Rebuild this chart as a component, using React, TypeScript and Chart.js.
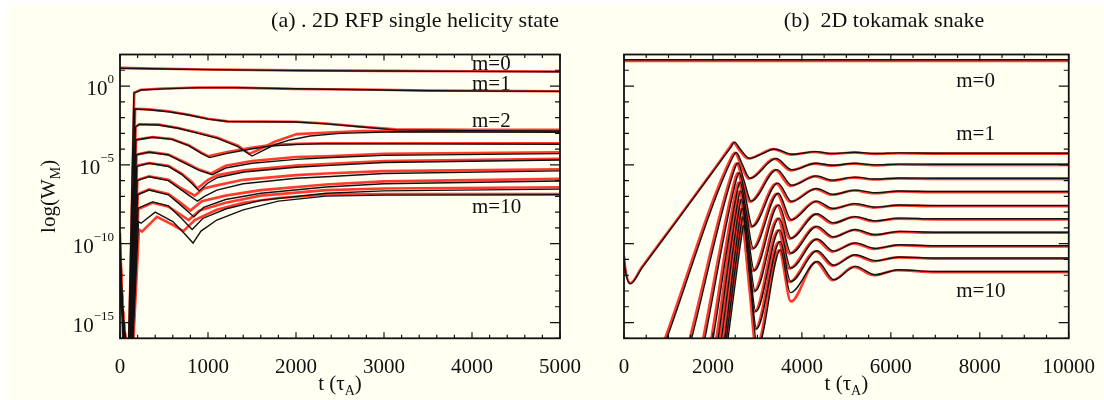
import React, { useEffect, useRef } from "react";
import { Chart, registerables } from "chart.js";

Chart.register(...registerables);

const FONT = '"Liberation Serif", "Times New Roman", Times, serif';
const BG = "#fffff2";
const INK = "#111111";
const RED = "#ff3b2e";

type Pt = [number, number]; // [time in tau_A, log10(W_M)]

// ---------------- Panel (a): 2D RFP single helicity state ----------------
const rfpTimeTicks = [0, 1000, 2000, 3000, 4000, 5000];
const logTicks = [0, -5, -10, -15];

const rfpM0Black: Pt[] = [[0, 1.13], [500, 1.08], [1000, 1.04], [2000, 0.98], [3000, 0.95], [4000, 0.93], [5000, 0.91]];
const rfpM0Red: Pt[] = [[0, 1.15], [500, 1.1], [1000, 1.05], [2000, 0.99], [3000, 0.96], [4000, 0.94], [5000, 0.92]];

const rfpM1Black: Pt[] = [[0, -9.6], [40, -17], [95, -17], [158, -0.45], [240, -0.25], [500, -0.18], [900, -0.1], [1300, -0.1], [2000, -0.17], [2750, -0.24], [3500, -0.3], [5000, -0.34]];
const rfpM1Red: Pt[] = [[0, -9.3], [40, -17], [100, -17], [162, -0.42], [240, -0.24], [500, -0.16], [900, -0.09], [1300, -0.1], [2000, -0.19], [2750, -0.22], [3500, -0.28], [5000, -0.33]];

const rfpM2Black: Pt[] = [[0, -10.2], [45, -17], [100, -17], [168, -1.46], [330, -1.5], [550, -1.63], [780, -1.84], [1000, -2.1], [1220, -2.25], [2000, -2.28], [2340, -2.4], [2750, -2.6], [3130, -2.78], [4000, -2.83], [5000, -2.85]];
const rfpM2Red: Pt[] = [[0, -9.9], [45, -17], [105, -17], [172, -1.44], [330, -1.48], [550, -1.6], [780, -1.82], [1000, -2.08], [1220, -2.24], [2000, -2.27], [2340, -2.38], [2750, -2.58], [3130, -2.75], [4000, -2.77], [5000, -2.78]];

const rfpM3Black: Pt[] = [[0, -10.6], [50, -17], [105, -17], [175, -2.6], [220, -2.43], [440, -2.47], [660, -2.68], [890, -3.0], [1110, -3.32], [1340, -3.84], [1500, -4.44], [1600, -4.16], [1750, -3.74], [1930, -3.42], [2160, -3.17], [2500, -3.0], [3130, -2.9], [5000, -2.93]];
const rfpM3Red: Pt[] = [[0, -10.3], [50, -17], [110, -17], [178, -2.58], [220, -2.42], [440, -2.45], [660, -2.66], [890, -2.97], [1110, -3.28], [1340, -3.78], [1470, -4.3], [1600, -3.98], [1750, -3.55], [2010, -3.05], [2750, -2.85], [5000, -2.88]];

const rfpM4Black: Pt[] = [[0, -11.0], [55, -17], [110, -17], [180, -3.42], [370, -3.25], [590, -3.38], [780, -3.78], [925, -4.27], [1020, -4.54], [1220, -4.27], [1490, -3.99], [1710, -3.8], [2010, -3.7], [2340, -3.65], [5000, -3.69]];
const rfpM4Red: Pt[] = [[0, -10.7], [55, -17], [115, -17], [183, -3.4], [370, -3.23], [590, -3.36], [780, -3.75], [925, -4.22], [1000, -4.45], [1220, -4.18], [1490, -3.92], [1710, -3.75], [2010, -3.67], [2340, -3.63], [5000, -3.63]];

const rfpM5Black: Pt[] = [[0, -11.4], [60, -17], [115, -17], [185, -4.37], [330, -4.2], [550, -4.37], [740, -4.9], [900, -5.35], [1050, -5.62], [1200, -5.2], [1500, -4.9], [2000, -4.65], [2340, -4.55], [3000, -4.4], [5000, -4.29]];
const rfpM5Red: Pt[] = [[0, -11.1], [60, -17], [120, -17], [188, -4.35], [330, -4.18], [550, -4.34], [740, -4.85], [900, -5.3], [1030, -5.55], [1200, -5.05], [1500, -4.75], [2000, -4.5], [2340, -4.45], [3000, -4.3], [5000, -4.2]];

const rfpM6Black: Pt[] = [[0, -11.8], [65, -17], [120, -17], [190, -5.1], [330, -4.9], [550, -5.1], [700, -5.6], [820, -6.2], [900, -6.65], [1000, -6.15], [1110, -5.8], [1410, -5.45], [2000, -5.15], [2340, -5.05], [3000, -4.85], [5000, -4.69]];
const rfpM6Red: Pt[] = [[0, -11.5], [65, -17], [125, -17], [193, -5.05], [330, -4.88], [550, -5.06], [700, -5.55], [820, -6.1], [880, -6.5], [1000, -5.95], [1110, -5.65], [1410, -5.35], [2000, -5.05], [2340, -4.95], [3000, -4.75], [5000, -4.62]];

const rfpM7Black: Pt[] = [[0, -12.2], [70, -17], [125, -17], [195, -6.0], [330, -5.75], [550, -6.0], [700, -6.6], [800, -7.0], [880, -7.3], [960, -7.0], [1100, -6.6], [1400, -6.2], [2000, -5.85], [2340, -5.75], [3000, -5.55], [5000, -5.38]];
const rfpM7Red: Pt[] = [[0, -11.9], [70, -17], [130, -17], [198, -5.95], [330, -5.72], [550, -5.95], [700, -6.5], [850, -6.95], [950, -6.5], [1100, -6.3], [1400, -5.95], [2000, -5.65], [2340, -5.55], [3000, -5.4], [5000, -5.28]];

const rfpM8Black: Pt[] = [[0, -12.6], [75, -17], [130, -17], [200, -6.9], [330, -6.6], [550, -6.9], [700, -7.6], [840, -8.3], [950, -7.7], [1200, -7.2], [1600, -6.8], [2340, -6.4], [3000, -6.2], [5000, -6.02]];
const rfpM8Red: Pt[] = [[0, -12.3], [75, -17], [135, -17], [203, -6.85], [330, -6.55], [550, -6.85], [700, -7.45], [800, -7.9], [930, -7.3], [1200, -6.95], [1600, -6.6], [2340, -6.25], [3000, -6.05], [5000, -5.89]];

const rfpM9Black: Pt[] = [[0, -13.0], [80, -17], [135, -17], [205, -7.75], [370, -7.35], [550, -7.6], [700, -8.4], [820, -9.1], [940, -8.4], [1200, -7.8], [1600, -7.25], [2340, -6.8], [3000, -6.65], [5000, -6.54]];
const rfpM9Red: Pt[] = [[0, -12.7], [80, -17], [140, -17], [208, -7.8], [370, -7.4], [550, -7.65], [700, -8.2], [780, -8.5], [900, -7.9], [1200, -7.4], [1600, -6.95], [2340, -6.6], [3000, -6.5], [5000, -6.42]];

const rfpM10Black: Pt[] = [[0, -13.4], [85, -17], [140, -17], [210, -8.6], [240, -8.7], [400, -8.0], [600, -8.6], [740, -9.4], [830, -9.96], [920, -9.2], [1100, -8.5], [1400, -7.85], [1800, -7.3], [2340, -6.98], [3000, -6.92], [5000, -6.9]];
const rfpM10Red: Pt[] = [[0, -13.1], [85, -17], [145, -17], [215, -9.1], [250, -9.23], [420, -8.3], [600, -8.8], [720, -9.2], [850, -8.5], [1100, -7.85], [1400, -7.4], [1800, -7.1], [2340, -6.88], [3000, -6.85], [5000, -6.85]];

// ---------------- Panel (b): 2D tokamak snake ----------------
const snakeTimeTicks = [0, 2000, 4000, 6000, 8000, 10000];

const snM0Black: Pt[] = [[0, 1.67], [10000, 1.67]];
const snM0Red: Pt[] = [[0, 1.59], [10000, 1.59]];

const snM1Black: Pt[] = [[0, -10.9], [25, -11.6], [140, -12.55], [400, -11.55], [1200, -8.5], [2000, -5.43], [2400, -3.9], [2489, -3.56], [2600, -3.95], [2824, -4.58], [3100, -4.3], [3382, -3.99], [3791, -4.33], [4312, -4.16], [4684, -4.28], [5205, -4.2], [5650, -4.28], [6200, -4.24], [7000, -4.26], [10000, -4.26]];
const snM1Red: Pt[] = [[0, -10.8], [25, -11.5], [140, -12.5], [400, -11.5], [1200, -8.45], [2000, -5.38], [2370, -3.92], [2460, -3.58], [2570, -3.97], [2795, -4.6], [3070, -4.32], [3350, -4.0], [3760, -4.35], [4280, -4.18], [4650, -4.3], [5170, -4.22], [5620, -4.3], [6170, -4.26], [7000, -4.29], [10000, -4.29]];

const snM2Black: Pt[] = [[964, -16], [2440, -4.55], [2526, -4.22], [2650, -4.9], [2835, -5.85], [3420, -4.6], [3780, -5.32], [4320, -4.9], [4690, -5.02], [5200, -4.9], [5650, -5.0], [6200, -4.95], [7000, -4.96], [10000, -4.96]];
const snM2Red: Pt[] = [[925, -16], [2405, -4.57], [2495, -4.24], [2620, -4.92], [2805, -5.88], [3385, -4.62], [3745, -5.35], [4285, -4.92], [4655, -5.05], [5165, -4.93], [5615, -5.03], [6165, -4.98], [7000, -5.0], [10000, -5.0]];

const snM3Black: Pt[] = [[1522, -16], [2490, -5.25], [2563, -4.88], [2700, -6.0], [2860, -7.3], [3440, -5.3], [3775, -6.3], [4325, -5.7], [4695, -5.97], [5200, -5.78], [5650, -5.9], [6200, -5.83], [7000, -5.85], [10000, -5.85]];
const snM3Red: Pt[] = [[1480, -16], [2455, -5.27], [2530, -4.9], [2670, -6.02], [2830, -7.33], [3405, -5.33], [3740, -6.33], [4290, -5.73], [4660, -6.0], [5165, -5.81], [5615, -5.93], [6165, -5.86], [7000, -5.89], [10000, -5.89]];

const snM4Black: Pt[] = [[1820, -16], [2530, -5.9], [2590, -5.5], [2730, -7.0], [2890, -8.9], [3460, -6.16], [3770, -7.32], [4330, -6.5], [4700, -6.87], [5200, -6.6], [5650, -6.77], [6200, -6.66], [7000, -6.69], [10000, -6.69]];
const snM4Red: Pt[] = [[1780, -16], [2495, -5.92], [2555, -5.52], [2700, -7.03], [2860, -8.93], [3425, -6.19], [3735, -7.35], [4295, -6.53], [4665, -6.9], [5165, -6.63], [5615, -6.8], [6165, -6.69], [7000, -6.73], [10000, -6.73]];

const snM5Black: Pt[] = [[2005, -16], [2560, -6.5], [2610, -6.1], [2750, -8.0], [2910, -10.3], [3470, -6.8], [3765, -8.49], [4335, -7.3], [4705, -7.77], [5205, -7.46], [5650, -7.68], [6200, -7.55], [7000, -7.58], [10000, -7.58]];
const snM5Red: Pt[] = [[1965, -16], [2525, -6.52], [2575, -6.12], [2720, -8.03], [2880, -10.33], [3435, -6.83], [3730, -8.52], [4300, -7.33], [4670, -7.8], [5170, -7.49], [5615, -7.71], [6165, -7.58], [7000, -7.62], [10000, -7.62]];

const snM6Black: Pt[] = [[2117, -16], [2580, -7.05], [2625, -6.65], [2770, -9.0], [2930, -11.7], [3480, -7.54], [3760, -9.65], [4340, -8.1], [4710, -8.68], [5205, -8.28], [5650, -8.55], [6200, -8.38], [7000, -8.42], [10000, -8.42]];
const snM6Red: Pt[] = [[2077, -16], [2545, -7.07], [2590, -6.67], [2740, -9.03], [2900, -11.73], [3445, -7.57], [3725, -9.68], [4305, -8.13], [4675, -8.71], [5170, -8.31], [5615, -8.58], [6165, -8.41], [7000, -8.46], [10000, -8.46]];

const snM7Black: Pt[] = [[2191, -16], [2600, -7.6], [2640, -7.2], [2790, -10.0], [2950, -13.0], [3490, -8.38], [3755, -10.6], [4340, -8.9], [4715, -9.57], [5205, -9.1], [5650, -9.42], [6200, -9.22], [7000, -9.27], [10000, -9.27]];
const snM7Red: Pt[] = [[2151, -16], [2565, -7.62], [2605, -7.22], [2760, -10.03], [2920, -13.03], [3455, -8.41], [3720, -10.63], [4305, -8.93], [4680, -9.6], [5170, -9.13], [5615, -9.45], [6165, -9.25], [7000, -9.31], [10000, -9.31]];

const snM8Black: Pt[] = [[2266, -16], [2620, -8.15], [2655, -7.75], [2810, -11.0], [2965, -14.3], [3500, -9.12], [3750, -11.55], [4345, -9.7], [4715, -10.47], [5205, -9.95], [5650, -10.3], [6200, -10.07], [7000, -10.13], [10000, -10.13]];
const snM8Red: Pt[] = [[2226, -16], [2585, -8.17], [2620, -7.77], [2780, -11.03], [2935, -14.33], [3465, -9.15], [3715, -11.58], [4310, -9.73], [4680, -10.5], [5170, -9.98], [5615, -10.33], [6165, -10.1], [7000, -10.17], [10000, -10.17]];

const snM9Black: Pt[] = [[2303, -16], [2640, -8.7], [2670, -8.3], [2830, -11.9], [2980, -15.4], [3510, -9.86], [3750, -12.4], [4345, -10.45], [4720, -11.37], [5205, -10.7], [5650, -11.08], [6200, -10.84], [7000, -10.91], [10000, -10.91]];
const snM9Red: Pt[] = [[2263, -16], [2605, -8.72], [2635, -8.32], [2800, -11.93], [2950, -15.43], [3475, -9.89], [3715, -12.43], [4310, -10.48], [4685, -11.4], [5170, -10.73], [5615, -11.11], [6165, -10.87], [7000, -10.95], [10000, -10.95]];

const snM10Black: Pt[] = [[2340, -16], [2660, -9.25], [2685, -8.85], [2850, -12.8], [3000, -16.6], [3520, -10.39], [3740, -13.1], [4349, -11.13], [4721, -12.29], [5205, -11.44], [5651, -11.97], [6172, -11.65], [7000, -11.76], [10000, -11.76]];
const snM10Red: Pt[] = [[2300, -16], [2625, -9.27], [2650, -8.87], [2820, -12.83], [2970, -16.63], [3485, -10.42], [3754, -13.66], [4314, -11.16], [4686, -12.32], [5170, -11.47], [5616, -12.0], [6137, -11.68], [7000, -11.8], [10000, -11.8]];

const rfpBlack = [rfpM0Black, rfpM1Black, rfpM2Black, rfpM3Black, rfpM4Black, rfpM5Black, rfpM6Black, rfpM7Black, rfpM8Black, rfpM9Black, rfpM10Black];
const rfpRed = [rfpM0Red, rfpM1Red, rfpM2Red, rfpM3Red, rfpM4Red, rfpM5Red, rfpM6Red, rfpM7Red, rfpM8Red, rfpM9Red, rfpM10Red];
const snBlack = [snM0Black, snM1Black, snM2Black, snM3Black, snM4Black, snM5Black, snM6Black, snM7Black, snM8Black, snM9Black, snM10Black];
const snRed = [snM0Red, snM1Red, snM2Red, snM3Red, snM4Red, snM5Red, snM6Red, snM7Red, snM8Red, snM9Red, snM10Red];

// mode annotations (data coordinates: time, log10 W)
const rfpModeLabels = [
  { text: "m=0", t: 4000, v: 1.02 },
  { text: "m=1", t: 4000, v: -0.25 },
  { text: "m=2", t: 4000, v: -2.6 },
  { text: "m=10", t: 4000, v: -8.05 },
];
const snModeLabels = [
  { text: "m=0", t: 7470, v: -0.06 },
  { text: "m=1", t: 7470, v: -3.42 },
  { text: "m=10", t: 7470, v: -13.38 },
];

// ---------------- layout ----------------
const H = 400;
const AREA_TOP = 54.5;
const AREA_BOTTOM = 338.3;

interface PanelSpec {
  id: string;
  canvasLeft: number;
  width: number;
  areaLeft: number;
  areaRight: number;
  xMax: number;
  xTicks: number[];
  xMinor: number;
  title: string;
  titleX: number;
  yLabels: boolean;
  yTitle: boolean;
  labels: { text: string; t: number; v: number }[];
  black: Pt[][];
  red: Pt[][];
  smooth: boolean;
}

const panels: PanelSpec[] = [
  {
    id: "a", canvasLeft: 0, width: 590, areaLeft: 120, areaRight: 567,
    xMax: 5000, xTicks: rfpTimeTicks, xMinor: 200,
    title: "(a) . 2D RFP single helicity state", titleX: 415,
    yLabels: true, yTitle: true, labels: rfpModeLabels,
    black: rfpBlack, red: rfpRed, smooth: false,
  },
  {
    id: "b", canvasLeft: 590, width: 514, areaLeft: 34, areaRight: 481.7,
    xMax: 10000, xTicks: snakeTimeTicks, xMinor: 500,
    title: "(b)  2D tokamak snake", titleX: 294,
    yLabels: false, yTitle: false, labels: snModeLabels,
    black: snBlack, red: snRed, smooth: true,
  },
];

function drawSubText(ctx: CanvasRenderingContext2D, parts: { s: string; sub?: boolean }[], cx: number, y: number) {
  const widths = parts.map((p) => {
    ctx.font = `${p.sub ? 14 : 21}px ${FONT}`;
    return ctx.measureText(p.s).width;
  });
  const total = widths.reduce((a, b) => a + b, 0);
  let x = cx - total / 2;
  ctx.textAlign = "left";
  parts.forEach((p, i) => {
    ctx.font = `${p.sub ? 14 : 21}px ${FONT}`;
    ctx.fillText(p.s, x, p.sub ? y + 5 : y);
    x += widths[i];
  });
}

function makeDeco(spec: PanelSpec) {
  return {
    id: "deco" + spec.id,
    afterDraw(chart: any) {
      const { ctx, chartArea } = chart;
      const { left, right, top, bottom } = chartArea;
      const xs = chart.scales.x;
      const ys = chart.scales.y;
      ctx.save();
      ctx.strokeStyle = INK;
      ctx.lineWidth = 1.2;
      ctx.beginPath();
      for (let v = 0; v <= spec.xMax + 1e-6; v += spec.xMinor) {
        const px = xs.getPixelForValue(v);
        const len = spec.xTicks.includes(v) ? 6 : 3.5;
        ctx.moveTo(px, bottom);
        ctx.lineTo(px, bottom - len);
        ctx.moveTo(px, top);
        ctx.lineTo(px, top + len);
      }
      for (let e = -16; e <= 2; e++) {
        const py = ys.getPixelForValue(e);
        const len = logTicks.includes(e) ? 10 : 5;
        ctx.moveTo(left, py);
        ctx.lineTo(left + len, py);
        ctx.moveTo(right, py);
        ctx.lineTo(right - len, py);
      }
      ctx.stroke();
      ctx.lineWidth = 1.8;
      ctx.strokeRect(left, top, right - left, bottom - top);

      ctx.fillStyle = INK;
      ctx.textBaseline = "alphabetic";

      if (spec.yLabels) {
        for (const e of logTicks) {
          const py = ys.getPixelForValue(e);
          const exp = e === 0 ? "0" : "\u2212" + Math.abs(e);
          ctx.font = `13px ${FONT}`;
          const ew = ctx.measureText(exp).width;
          const xr = left - 6;
          ctx.textAlign = "right";
          ctx.fillText(exp, xr, py - 2.8);
          ctx.font = `21px ${FONT}`;
          ctx.fillText("10", xr - ew, py + 9);
        }
      }

      ctx.font = `21px ${FONT}`;
      ctx.textAlign = "left";
      for (const l of spec.labels) {
        ctx.fillText(l.text, xs.getPixelForValue(l.t), ys.getPixelForValue(l.v));
      }

      ctx.font = `22px ${FONT}`;
      ctx.textAlign = "center";
      ctx.fillText(spec.title, spec.titleX, 27);

      drawSubText(ctx, [{ s: "t (\u03c4" }, { s: "A", sub: true }, { s: ")" }], (left + right) / 2, 390);

      if (spec.yTitle) {
        ctx.save();
        ctx.translate(54.5, (top + bottom) / 2);
        ctx.rotate(-Math.PI / 2);
        drawSubText(ctx, [{ s: "log(W" }, { s: "M", sub: true }, { s: ")" }], 0, 0);
        ctx.restore();
      }
      ctx.restore();
    },
  };
}

function Panel({ spec }: { spec: PanelSpec }) {
  const ref = useRef<HTMLCanvasElement | null>(null);
  useEffect(() => {
    if (!ref.current) return;
    const datasets: any[] = [];
    spec.red.forEach((s, i) => {
      datasets.push({
        label: `m=${i} red`,
        data: s.map(([x, y]) => ({ x, y })),
        borderColor: RED,
        borderWidth: 2.6,
        pointRadius: 0,
        fill: false,
        order: 1,
        tension: 0,
        cubicInterpolationMode: spec.smooth ? "monotone" : "default",
      });
    });
    spec.black.forEach((s, i) => {
      datasets.push({
        label: `m=${i} black`,
        data: s.map(([x, y]) => ({ x, y })),
        borderColor: INK,
        borderWidth: 1.4,
        pointRadius: 0,
        fill: false,
        order: 0,
        tension: 0,
        cubicInterpolationMode: spec.smooth ? "monotone" : "default",
      });
    });
    const chart = new Chart(ref.current, {
      type: "line",
      data: { datasets },
      options: {
        animation: false,
        responsive: false,
        devicePixelRatio: 1,
        events: [],
        layout: {
          autoPadding: false,
          padding: { left: 0, top: AREA_TOP, right: spec.width - spec.areaRight, bottom: 0 },
        },
        plugins: {
          legend: { display: false },
          tooltip: { enabled: false },
          title: { display: false },
        },
        elements: { point: { radius: 0 } },
        scales: {
          x: {
            type: "linear",
            min: 0,
            max: spec.xMax,
            grid: { display: false },
            border: { display: false },
            ticks: {
              color: INK,
              font: { family: FONT, size: 21 },
              padding: 9,
              maxRotation: 0,
              autoSkip: false,
              callback: (v: any) => String(v),
            },
            afterBuildTicks: (s: any) => {
              s.ticks = spec.xTicks.map((v) => ({ value: v }));
            },
            afterFit: (s: any) => {
              s.height = H - AREA_BOTTOM;
            },
          },
          y: {
            type: "linear",
            min: -16,
            max: 2,
            grid: { display: false },
            border: { display: false },
            ticks: { display: false },
            afterFit: (s: any) => {
              s.width = spec.areaLeft;
            },
          },
        },
      } as any,
      plugins: [makeDeco(spec)],
    });
    return () => chart.destroy();
  }, [spec]);
  return (
    <canvas
      ref={ref}
      width={spec.width}
      height={H}
      style={{ position: "absolute", left: spec.canvasLeft, top: 0, width: spec.width, height: H, display: "block" }}
    />
  );
}

export default function App() {
  return (
    <div style={{ position: "absolute", left: 0, top: 0, width: 1104, height: 400, overflow: "hidden" }}>
      <div style={{ position: "absolute", left: 8, top: 5, right: 0, bottom: 0, background: BG }} />
      {panels.map((p) => (
        <Panel key={p.id} spec={p} />
      ))}
    </div>
  );
}
